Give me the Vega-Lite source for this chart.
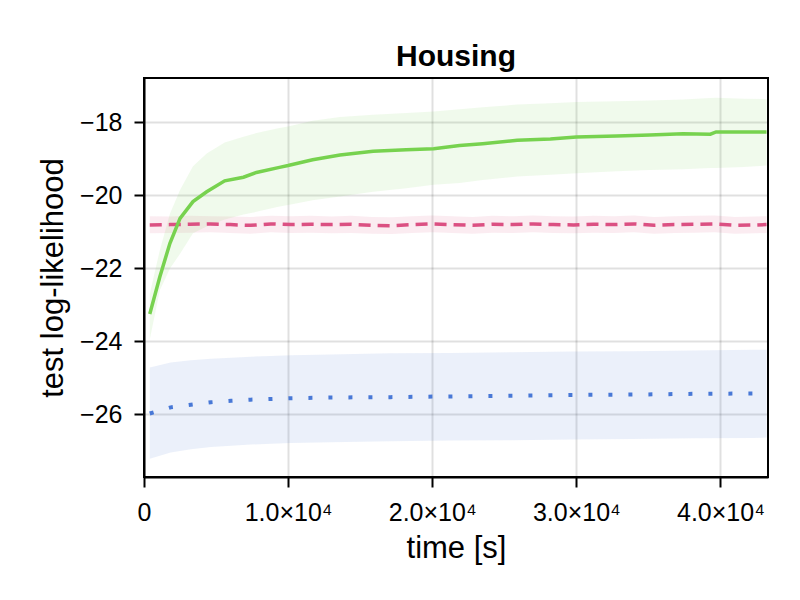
{
  "$schema": "https://vega.github.io/schema/vega-lite/v6.json",
  "autosize": {"type": "none"},
  "padding": {"left": 144, "top": 78, "right": 32, "bottom": 123},
  "width": 624,
  "height": 399,
  "background": "white",
  "title": {
    "text": "Housing",
    "font": "Liberation Sans",
    "fontSize": 30,
    "fontWeight": "bold",
    "color": "black",
    "anchor": "middle",
    "frame": "group",
    "baseline": "bottom",
    "offset": -24
  },
  "data": {
    "values": [
      {"s": "blue", "t": 400, "m": -25.98, "lo": -27.22, "hi": -24.72},
      {"s": "blue", "t": 1850, "m": -25.81, "lo": -27.05, "hi": -24.58},
      {"s": "blue", "t": 3250, "m": -25.74, "lo": -26.96, "hi": -24.52},
      {"s": "blue", "t": 4650, "m": -25.67, "lo": -26.9, "hi": -24.48},
      {"s": "blue", "t": 6050, "m": -25.63, "lo": -26.86, "hi": -24.45},
      {"s": "blue", "t": 7400, "m": -25.6, "lo": -26.83, "hi": -24.42},
      {"s": "blue", "t": 8800, "m": -25.58, "lo": -26.81, "hi": -24.4},
      {"s": "blue", "t": 10200, "m": -25.56, "lo": -26.79, "hi": -24.38},
      {"s": "blue", "t": 12950, "m": -25.54, "lo": -26.77, "hi": -24.36},
      {"s": "blue", "t": 17100, "m": -25.53, "lo": -26.74, "hi": -24.33},
      {"s": "blue", "t": 21300, "m": -25.51, "lo": -26.72, "hi": -24.32},
      {"s": "blue", "t": 25500, "m": -25.49, "lo": -26.71, "hi": -24.3},
      {"s": "blue", "t": 29700, "m": -25.47, "lo": -26.69, "hi": -24.28},
      {"s": "blue", "t": 33850, "m": -25.46, "lo": -26.68, "hi": -24.27},
      {"s": "blue", "t": 38100, "m": -25.44, "lo": -26.66, "hi": -24.25},
      {"s": "blue", "t": 42250, "m": -25.43, "lo": -26.65, "hi": -24.23},
      {"s": "blue", "t": 43200, "m": -25.43, "lo": -26.64, "hi": -24.23},
      {"s": "pink", "t": 400, "m": -20.81, "lo": -21.04, "hi": -20.57},
      {"s": "pink", "t": 1800, "m": -20.8, "lo": -21.03, "hi": -20.58},
      {"s": "pink", "t": 3200, "m": -20.79, "lo": -21.02, "hi": -20.56},
      {"s": "pink", "t": 4600, "m": -20.78, "lo": -21.01, "hi": -20.57},
      {"s": "pink", "t": 6000, "m": -20.8, "lo": -21.03, "hi": -20.58},
      {"s": "pink", "t": 7400, "m": -20.82, "lo": -21.05, "hi": -20.59},
      {"s": "pink", "t": 8800, "m": -20.78, "lo": -21.01, "hi": -20.56},
      {"s": "pink", "t": 10200, "m": -20.8, "lo": -21.03, "hi": -20.57},
      {"s": "pink", "t": 11600, "m": -20.79, "lo": -21.02, "hi": -20.56},
      {"s": "pink", "t": 13000, "m": -20.8, "lo": -21.04, "hi": -20.58},
      {"s": "pink", "t": 14400, "m": -20.79, "lo": -21.03, "hi": -20.56},
      {"s": "pink", "t": 15800, "m": -20.82, "lo": -21.05, "hi": -20.59},
      {"s": "pink", "t": 17200, "m": -20.83, "lo": -21.06, "hi": -20.6},
      {"s": "pink", "t": 18600, "m": -20.8, "lo": -21.03, "hi": -20.57},
      {"s": "pink", "t": 20000, "m": -20.78, "lo": -21.01, "hi": -20.55},
      {"s": "pink", "t": 21400, "m": -20.8, "lo": -21.03, "hi": -20.57},
      {"s": "pink", "t": 22800, "m": -20.82, "lo": -21.05, "hi": -20.59},
      {"s": "pink", "t": 24200, "m": -20.79, "lo": -21.02, "hi": -20.56},
      {"s": "pink", "t": 25600, "m": -20.8, "lo": -21.03, "hi": -20.57},
      {"s": "pink", "t": 27000, "m": -20.78, "lo": -21.01, "hi": -20.55},
      {"s": "pink", "t": 28400, "m": -20.8, "lo": -21.03, "hi": -20.57},
      {"s": "pink", "t": 29800, "m": -20.81, "lo": -21.04, "hi": -20.58},
      {"s": "pink", "t": 31200, "m": -20.79, "lo": -21.02, "hi": -20.56},
      {"s": "pink", "t": 32600, "m": -20.8, "lo": -21.03, "hi": -20.57},
      {"s": "pink", "t": 34000, "m": -20.78, "lo": -21.01, "hi": -20.55},
      {"s": "pink", "t": 35400, "m": -20.82, "lo": -21.05, "hi": -20.59},
      {"s": "pink", "t": 36800, "m": -20.8, "lo": -21.03, "hi": -20.57},
      {"s": "pink", "t": 38200, "m": -20.79, "lo": -21.02, "hi": -20.56},
      {"s": "pink", "t": 39600, "m": -20.78, "lo": -21.01, "hi": -20.55},
      {"s": "pink", "t": 41000, "m": -20.82, "lo": -21.05, "hi": -20.59},
      {"s": "pink", "t": 42400, "m": -20.81, "lo": -21.04, "hi": -20.58},
      {"s": "pink", "t": 43200, "m": -20.8, "lo": -21.03, "hi": -20.57},
      {"s": "green", "t": 400, "m": -23.25, "lo": -23.95, "hi": -22.7},
      {"s": "green", "t": 1100, "m": -22.23, "lo": -22.6, "hi": -21.5},
      {"s": "green", "t": 1800, "m": -21.31, "lo": -22.0, "hi": -20.5},
      {"s": "green", "t": 2500, "m": -20.63, "lo": -21.6, "hi": -19.85},
      {"s": "green", "t": 3400, "m": -20.17, "lo": -21.04, "hi": -19.2},
      {"s": "green", "t": 4350, "m": -19.9, "lo": -20.85, "hi": -18.85},
      {"s": "green", "t": 5600, "m": -19.6, "lo": -20.66, "hi": -18.55},
      {"s": "green", "t": 6900, "m": -19.5, "lo": -20.52, "hi": -18.39},
      {"s": "green", "t": 7800, "m": -19.37, "lo": -20.45, "hi": -18.29},
      {"s": "green", "t": 9400, "m": -19.23, "lo": -20.3, "hi": -18.15},
      {"s": "green", "t": 10000, "m": -19.18, "lo": -20.26, "hi": -18.11},
      {"s": "green", "t": 11700, "m": -19.02, "lo": -20.13, "hi": -17.95},
      {"s": "green", "t": 13600, "m": -18.89, "lo": -20.03, "hi": -17.85},
      {"s": "green", "t": 15900, "m": -18.79, "lo": -19.9, "hi": -17.79},
      {"s": "green", "t": 18200, "m": -18.75, "lo": -19.8, "hi": -17.74},
      {"s": "green", "t": 20100, "m": -18.72, "lo": -19.71, "hi": -17.7},
      {"s": "green", "t": 21900, "m": -18.63, "lo": -19.66, "hi": -17.64},
      {"s": "green", "t": 23500, "m": -18.58, "lo": -19.58, "hi": -17.58},
      {"s": "green", "t": 25900, "m": -18.49, "lo": -19.48, "hi": -17.51},
      {"s": "green", "t": 28200, "m": -18.45, "lo": -19.43, "hi": -17.47},
      {"s": "green", "t": 30000, "m": -18.4, "lo": -19.39, "hi": -17.44},
      {"s": "green", "t": 32800, "m": -18.37, "lo": -19.34, "hi": -17.42},
      {"s": "green", "t": 35100, "m": -18.34, "lo": -19.3, "hi": -17.4},
      {"s": "green", "t": 37400, "m": -18.31, "lo": -19.28, "hi": -17.37},
      {"s": "green", "t": 39300, "m": -18.32, "lo": -19.25, "hi": -17.33},
      {"s": "green", "t": 39700, "m": -18.26, "lo": -19.25, "hi": -17.32},
      {"s": "green", "t": 41600, "m": -18.26, "lo": -19.22, "hi": -17.35},
      {"s": "green", "t": 43200, "m": -18.26, "lo": -19.18, "hi": -17.36}
    ]
  },
  "encoding": {
    "x": {
      "field": "t",
      "type": "quantitative",
      "title": "time [s]",
      "scale": {"domain": [0, 43300], "nice": false, "zero": false},
      "axis": {
        "values": [0, 10000, 20000, 30000, 40000],
        "labelExpr": "datum.value == 0 ? '0' : format(datum.value / 10000, '.1f') + '×10⁴'",
        "labelFlush": false,
        "labelPadding": 13,
        "titlePadding": 8
      }
    }
  },
  "layer": [
    {
      "mark": {"type": "area", "opacity": 0.11},
      "encoding": {
        "y": {
          "field": "lo",
          "type": "quantitative",
          "title": "test log-likelihood",
          "scale": {"domain": [-27.72, -16.78], "nice": false, "zero": false},
          "axis": {
            "values": [-26, -24, -22, -20, -18],
            "labelPadding": 12,
            "titlePadding": 10
          }
        },
        "y2": {"field": "hi"},
        "color": {
          "field": "s",
          "type": "nominal",
          "scale": {
            "domain": ["blue", "pink", "green"],
            "range": ["#4878d6", "#db5082", "#77d24f"]
          },
          "legend": null
        }
      }
    },
    {
      "transform": [{"filter": "datum.s == 'blue'"}],
      "mark": {"type": "line", "color": "#4878d6", "strokeWidth": 4, "strokeDash": [4, 16]},
      "encoding": {"y": {"field": "m", "type": "quantitative", "title": "test log-likelihood"}}
    },
    {
      "transform": [{"filter": "datum.s == 'pink'"}],
      "mark": {"type": "line", "color": "#db5082", "strokeWidth": 3.5, "strokeDash": [12, 7]},
      "encoding": {"y": {"field": "m", "type": "quantitative", "title": "test log-likelihood"}}
    },
    {
      "transform": [{"filter": "datum.s == 'green'"}],
      "mark": {"type": "line", "color": "#77d24f", "strokeWidth": 3.5},
      "encoding": {"y": {"field": "m", "type": "quantitative", "title": "test log-likelihood"}}
    }
  ],
  "config": {
    "font": "Liberation Sans",
    "view": {"stroke": "black", "strokeWidth": 2},
    "axis": {
      "domainColor": "black",
      "domainWidth": 2,
      "tickColor": "black",
      "tickWidth": 2,
      "tickSize": 10,
      "gridColor": "black",
      "gridOpacity": 0.12,
      "gridWidth": 2,
      "labelFont": "Liberation Sans",
      "labelFontSize": 25,
      "labelColor": "black",
      "titleFont": "Liberation Sans",
      "titleFontSize": 31,
      "titleFontWeight": "normal",
      "titleColor": "black"
    }
  }
}
